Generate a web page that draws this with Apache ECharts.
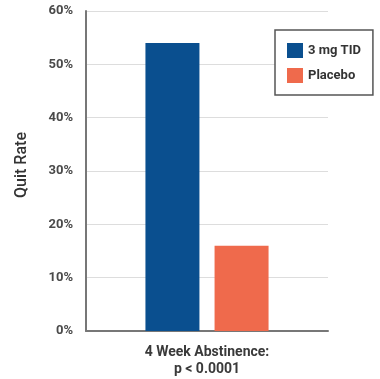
<!DOCTYPE html>
<html>
<head>
<meta charset="utf-8">
<script src="https://cdn.jsdelivr.net/npm/echarts@6/dist/echarts.min.js"></script>
<style>
html, body { margin: 0; padding: 0; background: #fff; }
#chart { width: 380px; height: 379px; }
</style>
</head>
<body>
<div id="chart"></div>
<script>
var categories = ['4 Week Abstinence:\np < 0.0001'];
var seriesNames = ['3 mg TID', 'Placebo'];
var tidValues = [54];
var placeboValues = [16];
var yTicks = [0, 10, 20, 30, 40, 50, 60];

var chart = echarts.init(document.getElementById('chart'));
var option = {
    animation: false,
    textStyle: { fontFamily: 'Roboto, "Noto Sans", sans-serif' },
    grid: { left: 86, right: 52, top: 11, bottom: 48 },
    legend: {
        data: seriesNames,
        orient: 'vertical',
        left: 275,
        top: 30,
        width: 102,
        padding: [13, 12, 12, 12],
        itemWidth: 16,
        itemHeight: 15,
        itemGap: 10,
        backgroundColor: '#fff',
        borderColor: '#555',
        borderWidth: 1.5,
        icon: 'rect',
        textStyle: { fontSize: 13, fontWeight: 'bold', color: '#333', padding: [0, 0, 0, 0] }
    },
    xAxis: {
        type: 'category',
        data: categories,
        axisLine: { lineStyle: { color: '#777', width: 2 } },
        axisTick: { show: false },
        axisLabel: { color: '#3a3a3a', fontSize: 14, fontWeight: 'bold', lineHeight: 17, margin: 13 }
    },
    yAxis: {
        type: 'value',
        min: yTicks[0],
        max: yTicks[yTicks.length - 1],
        interval: 10,
        name: 'Quit Rate',
        nameLocation: 'middle',
        nameGap: 56,
        nameTextStyle: { color: '#333', fontSize: 16, fontWeight: 500, padding: [0, 0, 0, 12] },
        axisLine: { show: true, lineStyle: { color: '#777', width: 2 } },
        axisTick: { show: false },
        splitLine: { lineStyle: { color: '#ddd', width: 1 } },
        axisLabel: { color: '#4a4a4a', fontSize: 13, fontWeight: 'bold', margin: 13, formatter: '{value}%' }
    },
    series: [{
        name: seriesNames[0],
        type: 'bar',
        data: tidValues,
        barWidth: 54,
        barGap: '28%',
        itemStyle: { color: '#0a4f8f' }
    }, {
        name: seriesNames[1],
        type: 'bar',
        data: placeboValues,
        barWidth: 54,
        itemStyle: { color: '#ef6a4c' }
    }]
};
chart.setOption(option);
</script>
</body>
</html>
